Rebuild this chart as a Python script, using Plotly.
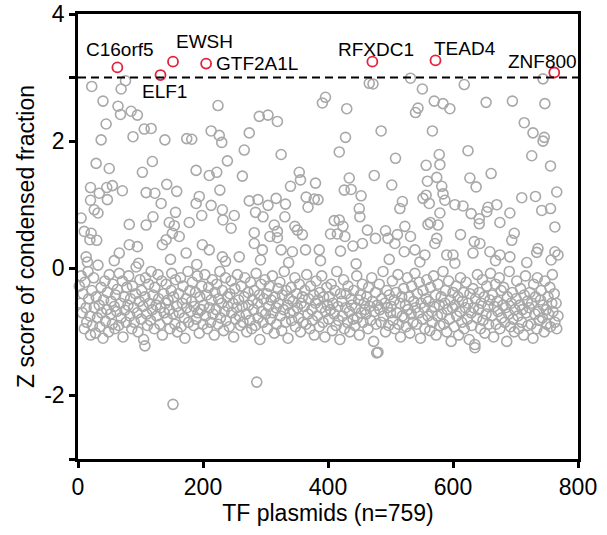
import plotly.graph_objects as go

# ---- labelled hits (red) ----
hit_names = ["C16orf5", "ELF1", "EWSH", "GTF2A1L", "RFXDC1", "TEAD4", "ZNF800"]
hit_x = [63, 132, 152, 205, 471, 572, 762]
hit_y = [3.16, 3.04, 3.25, 3.22, 3.25, 3.27, 3.08]

# ---- sparse upper points (grey) ----
up_x = [22, 76, 69, 40, 64, 68, 85, 95, 224, 45, 106, 117, 88, 37, 139, 174, 182, 213, 226, 230,
        266, 29, 50, 119, 103, 239, 189, 210, 222, 263, 20, 34, 46, 55, 71, 20, 47, 26, 32, 109,
        123, 142, 158, 133, 194, 189, 213, 227, 231, 250, 232, 245, 5, 82, 109, 120, 156, 146, 154, 178,
        198, 10, 21, 30, 19, 162, 141, 135, 151, 82, 95, 66, 13, 199, 210, 173, 231, 258,
        466, 472, 532, 396, 391, 430, 290, 304, 319, 274, 485, 428, 325, 418, 508, 354, 356, 340,
        380, 434, 426, 437, 474, 502, 453, 540, 274, 288, 304, 317, 332, 365, 378, 384, 368, 284,
        296, 331, 450, 451, 519, 515, 314, 319, 307, 319, 347, 351, 359, 410, 418, 424, 404, 415,
        427, 463, 282, 282, 295, 325, 343, 364, 386, 420, 440, 455, 476, 492, 496, 511, 523, 532,
        507, 522,
        551, 618, 744, 570, 584, 595, 544, 653, 695, 747, 567, 714, 728, 746, 744, 624, 578, 557,
        579, 726, 756, 661, 574, 559, 627, 637, 582, 584, 587, 557, 552, 562, 603, 616, 710, 732,
        766, 742, 756, 656, 670, 654, 629, 642, 642, 691, 675, 579, 564, 576, 560, 763, 612, 574,
        571, 634, 643, 698, 694, 539, 555, 590, 600, 632, 659, 675, 691, 736, 734, 763, 768]
up_y = [2.86, 2.95, 2.82, 2.63, 2.55, 2.42, 2.47, 2.41, 2.56, 2.27, 2.19, 2.20, 2.07, 2.02, 2.02, 2.04, 2.03, 2.16, 2.09, 1.98,
        1.86, 1.65, 1.57, 1.68, 1.51, 1.69, 1.54, 1.46, 1.51, 1.45, 1.27, 1.18, 1.27, 1.30, 1.22, 1.07, 1.08, 0.92, 0.87, 1.19,
        1.18, 1.32, 1.21, 1.02, 1.13, 1.02, 0.99, 1.23, 0.92, 0.83, 0.76, 0.63, 0.79, 0.69, 0.68, 0.81, 0.88, 0.72, 0.67, 0.72,
        0.83, 0.58, 0.55, 0.44, 0.45, 0.50, 0.45, 0.37, 0.55, 0.37, 0.34, 0.24, 0.18, 0.37, 0.29, 0.24, 0.18, 0.18,
        2.91, 2.90, 2.99, 2.69, 2.60, 2.51, 2.39, 2.41, 2.31, 2.13, 2.16, 2.06, 1.79, 1.83, 1.73, 1.51, 1.39, 1.29,
        1.34, 1.42, 1.23, 1.24, 1.46, 1.31, 1.14, 2.45, 1.06, 1.08, 0.99, 1.10, 1.01, 1.12, 1.09, 1.08, 0.96, 0.88,
        0.81, 0.81, 0.94, 0.81, 1.05, 0.94, 0.68, 0.58, 0.50, 0.48, 0.66, 0.60, 0.53, 0.75, 0.76, 0.66, 0.54, 0.54,
        0.50, 0.60, 0.56, 0.39, 0.29, 0.29, 0.26, 0.29, 0.29, 0.27, 0.35, 0.39, 0.47, 0.59, 0.47, 0.53, 0.66, 0.50,
        0.39, 0.26,
        2.82, 2.89, 2.98, 2.63, 2.59, 2.51, 2.52, 2.61, 2.63, 2.59, 2.16, 2.29, 2.13, 2.06, 2.00, 1.85, 1.79, 1.62,
        1.63, 1.77, 1.61, 1.49, 1.43, 1.37, 1.42, 1.28, 1.29, 1.17, 1.07, 1.15, 1.10, 1.02, 1.00, 0.98, 1.11, 1.13,
        1.20, 0.91, 0.94, 0.96, 1.00, 0.89, 0.86, 0.78, 0.70, 0.87, 0.72, 0.87, 0.72, 0.68, 0.69, 0.65, 0.53, 0.47,
        0.39, 0.42, 0.39, 0.55, 0.44, 0.29, 0.21, 0.21, 0.21, 0.24, 0.26, 0.21, 0.18, 0.31, 0.25, 0.26, 0.21]

# ---- points just above the zero line (grey) ----
edge_x = [15, 58, 97, 148, 190, 236, 292, 337, 388, 445, 498, 547, 603, 668, 718, 757]
edge_y = [0.10, 0.12, 0.08, 0.14, 0.06, 0.11, 0.13, 0.09, 0.12, 0.07, 0.14, 0.10, 0.08, 0.12, 0.09, 0.13]

# ---- low outliers (grey) ----
low_x = [107, 152, 286, 478, 635]
low_y = [-1.22, -2.14, -1.79, -1.33, -1.25]

# ---- dense band (grey) ----
band_x = [
    2, 4, 5, 7, 8, 10, 11, 13, 14, 16, 17, 19, 20,
    22, 23, 25, 26, 28, 29, 31, 32, 34, 35, 37, 38, 40,
    41, 43, 44, 46, 47, 49, 50, 52, 53, 55, 56, 58, 59, 60,
    62, 63, 65, 66, 68, 69, 71, 72, 74, 75, 77, 78, 80,
    81, 83, 84, 86, 87, 89, 90, 92, 93, 95, 96, 98, 99,
    101, 102, 104, 105, 107, 108, 110, 111, 113, 114, 116, 117, 119, 120,
    122, 123, 125, 126, 128, 129, 131, 132, 134, 135, 137, 138, 140,
    141, 143, 144, 146, 147, 149, 150, 152, 153, 155, 156, 158, 159,
    161, 162, 164, 165, 167, 168, 170, 171, 173, 174, 176, 177, 179, 180,
    182, 183, 185, 186, 188, 189, 191, 192, 194, 195, 197, 198, 200,
    201, 203, 204, 206, 207, 209, 210, 212, 213, 215, 216, 218, 219,
    221, 222, 224, 225, 227, 228, 230, 231, 233, 234, 236, 237, 239, 240,
    242, 243, 245, 246, 248, 249, 251, 252, 254, 255, 257, 258, 260,
    261, 263, 264, 266, 267, 269, 270, 272, 273, 275, 276, 278, 279,
    281, 282, 284, 285, 287, 288, 290, 291, 293, 294, 296, 297, 299, 300,
    302, 303, 305, 306, 308, 309, 311, 312, 314, 315, 317, 318, 320,
    321, 323, 324, 326, 327, 329, 330, 332, 333, 335, 336, 338, 339,
    341, 342, 344, 345, 347, 348, 350, 351, 353, 354, 356, 357, 359, 360,
    362, 363, 365, 366, 368, 369, 371, 372, 374, 375, 377, 378, 380,
    381, 383, 384, 386, 387, 389, 390, 392, 393, 395, 396, 398, 399,
    401, 402, 404, 405, 407, 408, 410, 411, 413, 414, 416, 417, 419, 420,
    422, 423, 425, 426, 428, 429, 431, 432, 434, 435, 437, 438, 440,
    441, 443, 444, 446, 447, 449, 450, 452, 453, 455, 456, 458, 459,
    461, 462, 464, 465, 467, 468, 470, 471, 473, 474, 476, 477, 479, 480,
    482, 483, 485, 486, 488, 489, 491, 492, 494, 495, 497, 498, 500,
    501, 503, 504, 506, 507, 509, 510, 512, 513, 515, 516, 518, 519,
    521, 522, 524, 525, 527, 528, 530, 531, 533, 534, 536, 537, 539, 540,
    542, 543, 545, 546, 548, 549, 551, 552, 554, 555, 557, 558, 560,
    561, 563, 564, 566, 567, 569, 570, 572, 573, 575, 576, 578, 579,
    581, 582, 584, 585, 587, 588, 590, 591, 593, 594, 596, 597, 599, 600,
    602, 603, 605, 606, 608, 609, 611, 612, 614, 615, 617, 618, 620,
    621, 623, 624, 626, 627, 629, 630, 632, 633, 635, 636, 638, 639,
    641, 642, 644, 645, 647, 648, 650, 651, 653, 654, 656, 657, 659, 660,
    662, 663, 665, 666, 668, 669, 671, 672, 674, 675, 677, 678, 680,
    681, 683, 684, 686, 687, 689, 690, 692, 693, 695, 696, 698, 699,
    701, 702, 704, 705, 707, 708, 710, 711, 713, 714, 716, 717, 719, 720,
    722, 723, 725, 726, 728, 729, 731, 732, 734, 735, 737, 738, 740,
    741, 743, 744, 746, 747, 749, 750, 752, 753, 755, 756, 758, 759,
    760, 762, 763, 765, 766, 768,
]
band_y = [
    -0.28, -0.55, -0.12, -0.70, -0.40, -0.95, -0.22, -0.62, -0.85, -0.05, -0.48, -0.75, -1.05,
    -0.35, -0.90, -0.15, -0.62, -1.02, -0.45, -0.78, 0.05, -0.58, -0.92, -0.30, -0.70, -1.10,
    -0.50, -0.20, -0.83, -0.65, -0.38, -1.00, -0.10, -0.72, -0.52, -0.88, -0.25, -0.60, -0.95, -0.42,
    -0.68, -0.33, -0.90, -0.08, -0.55, -0.78, -0.20, -1.08, -0.45, -0.66, -0.85, -0.30, -0.58,
    -0.12, -0.75, -0.48, -0.95, -0.28, -0.62, -0.85, -0.40, 0.02, -0.70, -1.00, -0.52, -0.18,
    -0.80, -0.35, -0.60, -1.12, -0.45, -0.15, -0.72, -0.90, -0.25, -0.55, -0.82, -0.05, -0.65, -0.42,
    -0.95, -0.30, -0.58, -0.75, -0.10, -0.48, -0.88, -0.62, -0.20, -1.05, -0.40, -0.70, -0.55,
    -0.25, -0.80, -0.50, -0.65, -0.95, -0.35, -0.08, -0.72, -0.45, -0.88, -0.18, -0.60, -1.00,
    -0.40, -0.70, -0.15, -0.92, -0.55, -0.28, -0.78, -1.10, -0.48, -0.62, -0.05, -0.85, -0.35, -0.68,
    -0.52, -0.22, -0.90, -0.60, -0.38, -0.80, -0.12, -0.70, -1.02, -0.45, -0.65, -0.28, -0.88,
    -0.58, -0.10, -0.75, -0.42, -0.95, -0.30, -0.62, -0.85, -0.50, -0.18, -0.72, -1.05, -0.38,
    -0.65, -0.25, -0.88, -0.48, -0.05, -0.78, -0.55, -0.35, -0.98, -0.68, -0.15, -0.82, -0.45, -0.60,
    -0.92, -0.40, -0.20, -0.70, -0.55, -1.08, -0.32, -0.80, -0.62, -0.10, -0.50, -0.75, -0.90,
    -0.28, -0.60, -0.85, -0.45, -0.15, -0.72, -1.00, -0.38, -0.58, -0.82, -0.22, -0.95, -0.50,
    -0.65, -0.35, -0.90, -0.08, -0.55, -0.78, -0.42, -1.12, -0.25, -0.68, -0.85, -0.48, -0.18, -0.72,
    -0.40, -0.95, -0.60, -0.28, -0.80, -0.50, -0.12, -0.70, -1.02, -0.45, -0.62, -0.88, -0.32,
    -0.55, -0.22, -0.75, -0.98, -0.42, -0.65, -0.05, -0.85, -0.35, -0.58, -1.10, -0.48, -0.70,
    -0.30, -0.82, -0.52, -0.68, -0.15, -0.92, -0.40, -0.62, -0.78, -0.25, -1.00, -0.55, -0.45, -0.85,
    -0.60, -0.35, -0.88, -0.10, -0.72, -0.48, -0.95, -0.28, -0.65, -0.82, -0.42, -1.05, -0.55,
    -0.20, -0.75, -0.50, -0.92, -0.38, -0.62, -0.12, -0.85, -0.45, -1.08, -0.68, -0.30, -0.58,
    -0.80, -0.45, -0.65, -0.25, -0.98, -0.55, -0.72, -0.35, -0.90, -0.05, -0.60, -0.82, -1.12, -0.40,
    -0.52, -0.75, -0.18, -0.95, -0.62, -0.40, -0.85, -0.28, -0.68, -1.00, -0.48, -0.58, -0.80,
    -0.35, -0.90, -0.62, -0.12, -0.78, -0.50, -1.05, -0.42, -0.70, -0.25, -0.85, -0.55, -0.65,
    -0.72, -0.45, -0.95, -0.30, -0.60, -0.82, -0.15, -0.52, -1.15, -0.68, -0.38, -0.88, -0.58, -1.32,
    -0.25, -0.65, -0.85, -0.48, -0.05, -0.75, -0.55, -1.00, -0.35, -0.62, -0.90, -0.42, -0.70,
    -0.60, -0.20, -0.82, -0.50, -0.95, -0.38, -0.70, -0.10, -0.88, -0.55, -1.08, -0.45, -0.75,
    -0.32, -0.78, -0.58, -0.92, -0.15, -0.65, -0.45, -1.02, -0.72, -0.28, -0.85, -0.52, -0.08, -0.62,
    -0.88, -0.40, -0.70, -0.22, -1.10, -0.55, -0.80, -0.35, -0.62, -0.95, -0.48, -0.18, -0.75,
    -0.52, -0.98, -0.30, -0.68, -0.85, -0.12, -0.60, -0.42, -1.05, -0.75, -0.25, -0.58, -0.90,
    -0.45, -0.72, -0.05, -0.88, -0.55, -0.35, -1.00, -0.65, -0.20, -0.80, -0.50, -1.15, -0.62, -0.38,
    -0.92, -0.58, -0.28, -0.75, -0.45, -1.05, -0.68, -0.15, -0.85, -0.52, -0.38, -0.95, -0.62,
    -0.22, -0.80, -0.55, -1.12, -0.40, -0.70, -0.90, -0.32, -0.62, -1.20, -0.48, -0.78, -0.10,
    -0.65, -0.38, -0.95, -0.55, -0.18, -0.82, -0.45, -1.02, -0.72, -0.28, -0.60, -0.88, -0.50, -0.08,
    -0.75, -0.42, -1.08, -0.60, -0.25, -0.88, -0.52, -0.68, -0.15, -0.95, -0.35, -0.78, -0.58,
    -0.30, -0.85, -0.62, -1.15, -0.45, -0.72, -0.05, -0.92, -0.55, -0.38, -0.80, -1.00, -0.65,
    -0.48, -0.20, -0.75, -0.95, -0.58, -0.32, -0.85, -0.65, -1.05, -0.42, -0.12, -0.70, -0.52, -0.90,
    -0.62, -0.38, -0.88, -0.55, -1.10, -0.25, -0.72, -0.45, -0.95, -0.15, -0.68, -0.82, -0.50,
    -0.35, -0.78, -0.58, -1.00, -0.20, -0.65, -0.88, -0.45, -0.72, -0.30, -0.92, -0.55, -0.10,
    -0.68, -0.40, -0.85, -0.55, -0.95, -0.75,
]

GREY = "#a8a8a8"
RED = "#e3223c"
FONT = "Liberation Sans, Arial, sans-serif"

fig = go.Figure()
fig.add_trace(go.Scatter(
    x=band_x + edge_x + up_x + low_x, y=band_y + edge_y + up_y + low_y, mode="markers",
    marker=dict(symbol="circle-open", size=10, color=GREY, line=dict(width=1.6, color=GREY)),
    cliponaxis=False, showlegend=False, hoverinfo="skip"))
fig.add_trace(go.Scatter(
    x=hit_x, y=hit_y, mode="markers",
    marker=dict(symbol="circle-open", size=10, color=RED, line=dict(width=1.8, color=RED)),
    cliponaxis=False, showlegend=False, text=hit_names))

fig.add_shape(type="line", xref="x", yref="y", x0=0, x1=800, y0=3, y1=3,
              line=dict(color="black", width=2, dash="8px,5px"))

# label offsets (pixels) relative to each hit
offsets = {
    "C16orf5": (3, 18, "center"),
    "ELF1": (4, -16, "center"),
    "EWSH": (31, 20, "center"),
    "GTF2A1L": (8, 0, "left"),
    "RFXDC1": (4, 12, "center"),
    "TEAD4": (29, 12, "center"),
    "ZNF800": (-12, 11, "center"),
}
for n, xv, yv in zip(hit_names, hit_x, hit_y):
    dx, dy, anc = offsets[n]
    fig.add_annotation(x=xv, y=yv, text=n, showarrow=False, xshift=dx, yshift=dy,
                       xanchor=anc, yanchor="middle",
                       font=dict(family=FONT, size=19, color="black"))

axis_common = dict(showline=True, linecolor="black", linewidth=2.5, mirror=True,
                   ticks="outside", ticklen=6, tickwidth=2.5, tickcolor="black",
                   showgrid=False, zeroline=False, automargin=False,
                   tickfont=dict(family=FONT, size=23, color="black"))
fig.update_xaxes(range=[0, 800], tickvals=[0, 200, 400, 600, 800],
                 title=dict(text="TF plasmids (n=759)", font=dict(family=FONT, size=23, color="black"), standoff=0),
                 **axis_common)
fig.update_yaxes(range=[-3, 4], tickvals=[-3, -2, 0, 2, 3, 4], ticktext=["", "-2", "0", "2", "", "4"],
                 title=dict(text="Z score of condensed fraction", font=dict(family=FONT, size=23, color="black"), standoff=4),
                 **axis_common)
fig.update_layout(width=607, height=535, margin=dict(l=78, r=29, t=14, b=76, autoexpand=False),
                  plot_bgcolor="white", paper_bgcolor="white")
fig.write_html("out.html", config={"displayModeBar": False},
               post_script="document.body.style.margin='0';document.body.style.overflow='hidden';")
